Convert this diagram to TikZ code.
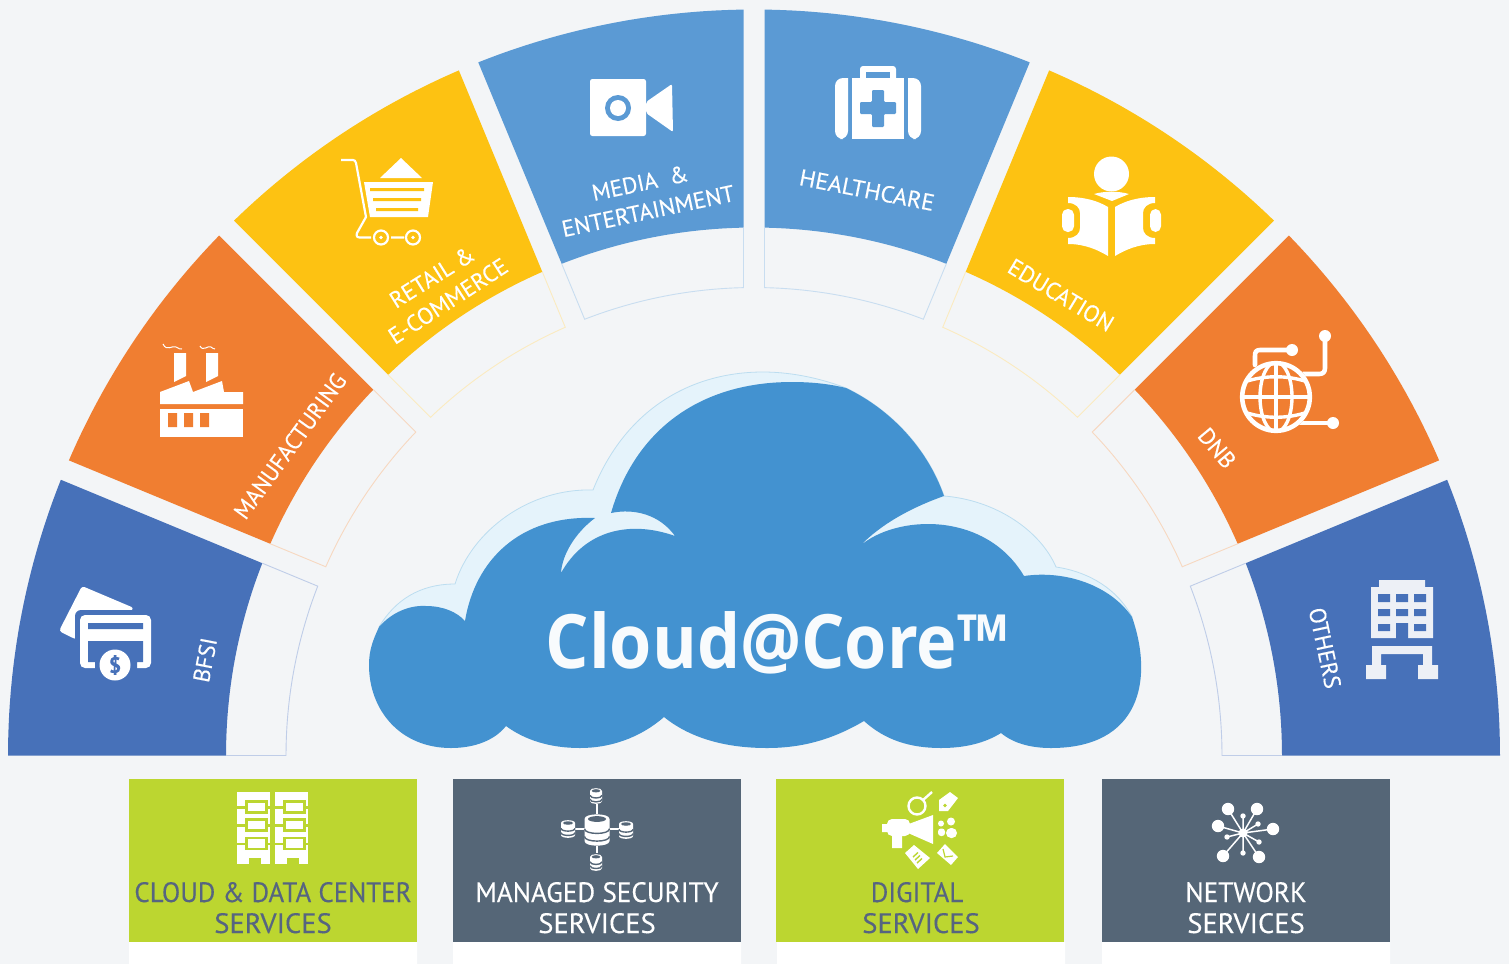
\documentclass[tikz,border=0pt]{standalone}
\usepackage{fontspec}
\setmainfont{PT Sans}[FakeBold=0.25]
\newfontfamily\brandfont{Open Sans}
\definecolor{pagebg}{HTML}{F3F5F7}
\definecolor{cblue}{HTML}{4771B9}
\definecolor{corange}{HTML}{F07E31}
\definecolor{cyellow}{HTML}{FDC212}
\definecolor{cmedia}{HTML}{5B9AD4}
\definecolor{lblue}{HTML}{BFCDE8}
\definecolor{lorange}{HTML}{F7D8C0}
\definecolor{lyellow}{HTML}{FBEBC0}
\definecolor{lmedia}{HTML}{C8DDF0}
\definecolor{cloudd}{HTML}{4392D0}
\definecolor{cloudl}{HTML}{E5F3FB}
\definecolor{cloude}{HTML}{BCDDF0}
\definecolor{cgreen}{HTML}{BCD630}
\definecolor{cslate}{HTML}{556677}
\definecolor{ctext}{HTML}{566580}
\definecolor{cbuild}{HTML}{EDF0F6}
\definecolor{brandc}{HTML}{F8FBFD}
\tikzset{
  seglabel/.style={text=white,inner sep=0pt,font=\fontsize{11.6}{13}\selectfont},
  boxlabel/.style={inner sep=0pt,font=\fontsize{14}{16}\selectfont,anchor=base},
}
\newcommand{\ringseg}[6]{%
  \pgfmathsetmacro\aOa{#3+asin(#4/746)}%
  \pgfmathsetmacro\aOb{#5-asin(#6/746)}%
  \pgfmathsetmacro\aIa{#3+asin(#4/528)}%
  \pgfmathsetmacro\aIb{#5-asin(#6/528)}%
  \pgfmathsetmacro\aTa{#3+asin(#4/468)}%
  \pgfmathsetmacro\aTb{#5-asin(#6/468)}%
  \fill[#1] plot[domain=\aOa:\aOb,samples=40,variable=\t] ({754-746*cos(\t)},{755.5-746*sin(\t)})
    -- plot[domain=\aIb:\aIa,samples=40,variable=\t] ({754-528*cos(\t)},{755.5-528*sin(\t)}) -- cycle;
  \draw[#2,line width=.45pt] ({754-528*cos(\aIa)},{755.5-528*sin(\aIa)})
    -- plot[domain=\aTa:\aTb,samples=40,variable=\t] ({754-468*cos(\t)},{755.5-468*sin(\t)})
    -- ({754-528*cos(\aIb)},{755.5-528*sin(\aIb)});
}
\newcommand{\dbcyl}[5]{% cx, top, rx, bottom, ry
  \pgfmathsetmacro\cxl{#1-#3}\pgfmathsetmacro\cxr{#1+#3}%
  \pgfmathsetmacro\cyt{#2+#5}\pgfmathsetmacro\cyb{#4-#5}%
  \pgfmathsetmacro\cya{#2+(#4-#2)*.46}\pgfmathsetmacro\cyc{#2+(#4-#2)*.70}%
  \pgfmathsetmacro\cdd{#5*1.25}%
  \fill[white] (\cxl,\cyt) -- (\cxl,\cyb) .. controls (\cxl,{\cyb+\cdd}) and (\cxr,{\cyb+\cdd}) .. (\cxr,\cyb)
     -- (\cxr,\cyt) .. controls (\cxr,{\cyt-\cdd}) and (\cxl,{\cyt-\cdd}) .. (\cxl,\cyt) -- cycle;
  \fill[cslate] (#1,\cyt) ellipse [x radius={#3*.72},y radius={#5*.58}];
  \draw[cslate,line width=.7pt] (\cxl,\cya) .. controls (\cxl,{\cya+\cdd}) and (\cxr,{\cya+\cdd}) .. (\cxr,\cya);
  \draw[cslate,line width=.7pt] (\cxl,\cyc) .. controls (\cxl,{\cyc+\cdd}) and (\cxr,{\cyc+\cdd}) .. (\cxr,\cyc);
}
\newcommand{\dccol}[1]{% data-centre column starting at x=#1
  \fill[white] (#1,792) rectangle ({#1+33},864);
  \foreach \i in {0,1,2}{
    \pgfmathsetmacro\yy{18.3*\i}
    \fill[cgreen] (#1,{806+\yy}) rectangle ({#1+33},{808.5+\yy});
    \fill[cgreen] ({#1+8},{800+\yy}) rectangle ({#1+30.5},{813.5+\yy});
    \fill[white] ({#1+11},{802.5+\yy}) rectangle ({#1+28},{811+\yy});
  }
  \fill[cgreen] ({#1+12},858) rectangle ({#1+24},864);
}
\begin{document}
\begin{tikzpicture}[x=.5pt,y=-.5pt]
\useasboundingbox (0,0) rectangle (1509,964);
\fill[pagebg] (0,0) rectangle (1509,964);
% ring
\ringseg{cblue}{lblue}{0}{0}{22.5}{10.5}
\ringseg{corange}{lorange}{22.5}{10.5}{45}{10.5}
\ringseg{cyellow}{lyellow}{45}{10.5}{67.5}{10.5}
\ringseg{cmedia}{lmedia}{67.5}{10.5}{90}{10.5}
\ringseg{cmedia}{lmedia}{90}{10.5}{112.5}{10.5}
\ringseg{cyellow}{lyellow}{112.5}{10.5}{135}{10.5}
\ringseg{corange}{lorange}{135}{10.5}{157.5}{10.5}
\ringseg{cblue}{lblue}{157.5}{10.5}{180}{0}
\draw[lblue,line width=.45pt] (226,755.5) -- (286,755.5) (1222,755.5) -- (1282,755.5);
% cloud
\fill[cloudl,draw=cloude,line width=.4pt]
  (379,627) .. controls (395,600) and (420,584) .. (455,584)
  .. controls (472,530) and (530,488) .. (593,490)
  .. controls (625,410) and (690,372) .. (763,372)
  .. controls (795,372) and (825,380) .. (846,388)
  .. controls (892,410) and (928,450) .. (944,496)
  .. controls (995,500) and (1040,530) .. (1056,567)
  .. controls (1090,572) and (1118,590) .. (1132,617)
  -- cycle;
\fill[cloudd]
  (379,627) .. controls (392,612) and (410,605) .. (426,606)
  .. controls (443,606) and (457,612) .. (465,621)
  .. controls (475,560) and (520,515) .. (595,518)
  .. controls (575,533) and (562,555) .. (561,573)
  .. controls (585,530) and (630,520) .. (675,536)
  .. controls (660,515) and (635,508) .. (611,513)
  .. controls (635,430) and (700,382) .. (792,382)
  .. controls (812,382) and (830,384) .. (846,388)
  .. controls (892,410) and (928,450) .. (944,496)
  .. controls (910,508) and (880,525) .. (860,546)
  .. controls (895,515) and (985,510) .. (1024,576)
  .. controls (1065,570) and (1110,585) .. (1132,617)
  .. controls (1154,680) and (1140,748) .. (1051,748)
  .. controls (1030,748) and (1013,743) .. (1001,733)
  .. controls (985,743) and (965,748) .. (941,748)
  .. controls (910,748) and (885,740) .. (864,721)
  .. controls (835,738) and (805,748) .. (767,748)
  .. controls (725,748) and (690,738) .. (664,717)
  .. controls (640,738) and (610,748) .. (580,748)
  .. controls (550,748) and (525,740) .. (506,726)
  .. controls (495,740) and (475,748) .. (451,748)
  .. controls (400,748) and (369,710) .. (369,665)
  .. controls (369,650) and (373,640) .. (379,627)
  -- cycle;
\node[anchor=base,inner sep=0pt,text=brandc,font=\brandfont\bfseries\fontsize{37.5}{40}\selectfont,xscale=.91] (brand) at (777,668) {Cloud@Core™};
% segment labels
\node[seglabel,rotate=79] (lbfsi) at (205,660) {BFSI};
\node[seglabel,rotate=54,xscale=.97] (lmfg) at (290,446) {MANUFACTURING};
\node[seglabel,rotate=32] (lret) at (432,277) {RETAIL \&};
\node[seglabel,rotate=33] (lecom) at (448,301) {E-COMMERCE};
\node[seglabel,rotate=12] (lmed) at (640,183) {MEDIA\ \ \&};
\node[seglabel,rotate=12,xscale=1.02] (lent) at (648,211) {ENTERTAINMENT};
\node[seglabel,rotate=-11,xscale=1.04] (lhea) at (867,190) {HEALTHCARE};
\node[seglabel,rotate=-31] (ledu) at (1061,295) {EDUCATION};
\node[seglabel,rotate=-50] (ldnb) at (1217,448) {DNB};
\node[seglabel,rotate=-78] (loth) at (1325,648) {OTHERS};
% card icon
\fill[white,rounded corners=1.5pt] (82,586) -- (134,608) -- (100,642) -- (75,639) -- (59,631) -- cycle;
\fill[cblue,rounded corners=3pt] (75,610) rectangle (157,674);
\fill[white,rounded corners=2.5pt] (80,615) rectangle (151,668);
\fill[cblue] (88,623) rectangle (143,629) (88,641) rectangle (143,662) (95,660) rectangle (137,669);
\fill[white] (115,665) circle [radius=15.5];
\node[inner sep=0pt,text=cblue,font=\bfseries\fontsize{11}{12}\selectfont] (dollar) at (115,665) {\$};
% factory icon
\fill[white] (174,353) -- (186,353) -- (186,376) -- (174,382) -- cycle;
\fill[white] (206,353) -- (218,353) -- (218,376) -- (206,382) -- cycle;
\fill[white] (160,392) -- (189,381) -- (193,392) -- (222,381) -- (224,392) -- (243,392) -- (243,404) -- (160,404) -- cycle;
\fill[white] (160,409) rectangle (243,437);
\fill[corange] (168,413) rectangle (177,427) (184,413) rectangle (193,427) (200,413) rectangle (209,427);
\draw[white,line width=.5pt] (163,344) .. controls (167,352) and (172,345) .. (176,347) .. controls (179,348) and (180,350) .. (182,349);
\draw[white,line width=.5pt] (200,346) .. controls (203,352) and (208,345) .. (211,347) .. controls (213,348) and (213,349) .. (215,349);
% cart icon
\draw[white,line width=1.1pt,line join=round] (341,160) -- (353,160) .. controls (355,160) and (355,161) .. (356,163) -- (366,217) -- (357,233) .. controls (356,236) and (357,237.5) .. (360,237.5) -- (371,237.5);
\fill[white] (364,182) -- (433,182) -- (428,217) -- (370,217) -- cycle;
\fill[cyellow] (370,188) rectangle (424,191) (373,198) rectangle (421,201) (376,208) rectangle (418,211);
\fill[white] (380,178) -- (401,158) -- (422,178) -- cycle;
\draw[white,line width=1.1pt] (381,237.5) circle [radius=7] (413,237.5) circle [radius=7] (391,237.5) -- (404,237.5);
\fill[white] (381,237.5) circle [radius=1.8] (413,237.5) circle [radius=1.8];
% video icon
\fill[white,rounded corners=1.2pt] (590,79) rectangle (646,136);
\fill[white,rounded corners=1pt] (646,102) -- (672,84) -- (673,132) -- (646,113) -- cycle;
\fill[cmedia] (618,108) circle [radius=13];
\fill[white] (618,108) circle [radius=8];
% health kit icon
\fill[white,rounded corners=1.5pt] (860,66) rectangle (896,82);
\fill[cmedia] (866,72) rectangle (890,78);
\fill[white] (852,78) rectangle (904,139);
\fill[white,rounded corners=4pt] (848,78) -- (835,78) -- (835,139) -- (848,139) [sharp corners] -- cycle;
\fill[white,rounded corners=4pt] (908,78) -- (921,78) -- (921,139) -- (908,139) [sharp corners] -- cycle;
\fill[cmedia,rounded corners=.6pt] (872,90) -- (884,90) -- (884,102) -- (896,102) -- (896,114) -- (884,114) -- (884,127) -- (872,127) -- (872,114) -- (860,114) -- (860,102) -- (872,102) -- cycle;
% book icon
\fill[white] (1111.5,174) circle [radius=17.5];
\fill[white] (1094,194) .. controls (1104,191) and (1119,191) .. (1129,194) -- (1112,201) -- cycle;
\fill[white] (1068,197) .. controls (1085,197) and (1098,201) .. (1108,207) -- (1108,256) .. controls (1098,250) and (1085,244) .. (1068,244) -- (1068,238) .. controls (1076,238) and (1080,233) .. (1080,228) -- (1080,213) .. controls (1080,208) and (1076,203) .. (1068,203) -- cycle;
\fill[white] (1155,197) .. controls (1138,197) and (1125,201) .. (1115,207) -- (1115,256) .. controls (1125,250) and (1138,244) .. (1155,244) -- (1155,238) .. controls (1147,238) and (1143,233) .. (1143,228) -- (1143,213) .. controls (1143,208) and (1147,203) .. (1155,203) -- cycle;
\fill[white,rounded corners=2.8pt] (1062,209) rectangle (1074,232);
\fill[white,rounded corners=2.8pt] (1150,209) rectangle (1161,232);
% globe icon
\draw[white,line width=2.3pt,line cap=round,line join=round] (1255,365) -- (1255,356) .. controls (1255,352) and (1256,350) .. (1260,350) -- (1292,350);
\draw[white,line width=2.3pt,line cap=round,line join=round] (1303,374) -- (1319,374) .. controls (1323,374) and (1325,372) .. (1325,368) -- (1325,336);
\draw[white,line width=2.3pt,line cap=round] (1300,423) -- (1333,423);
\fill[white] (1292,350) circle [radius=6] (1325,336) circle [radius=6] (1333,423) circle [radius=6];
\fill[corange] (1276,397) circle [radius=36];
\draw[white,line width=2.3pt] (1276,397) circle [radius=33.8];
\begin{scope}
\clip (1276,397) circle [radius=34];
\draw[white,line width=1.7pt] (1276,362) -- (1276,432) (1241,397) -- (1311,397);
\draw[white,line width=1.7pt] (1276,397) ellipse [x radius=16,y radius=35];
\draw[white,line width=1.7pt] (1244,382) .. controls (1265,375) and (1287,375) .. (1308,382);
\draw[white,line width=1.7pt] (1244,412) .. controls (1265,419) and (1287,419) .. (1308,412);
\end{scope}
% building icon
\fill[cbuild] (1379,580) rectangle (1425,587) (1371,587) rectangle (1433,638);
\fill[cblue] (1378,594) rectangle (1390,602) (1396,594) rectangle (1408,602) (1414,594) rectangle (1426,602)
  (1378,609) rectangle (1390,616) (1396,609) rectangle (1408,616) (1414,609) rectangle (1426,616)
  (1378,624) rectangle (1390,631) (1396,623) rectangle (1408,639) (1414,624) rectangle (1426,631);
\fill[cbuild] (1372,646) rectangle (1432,654) (1372,654) rectangle (1381,666) (1423,654) rectangle (1432,666)
  (1366,665) rectangle (1386,679) (1418,665) rectangle (1438,679);
% bottom boxes
\fill[white] (129,942) rectangle (417,964) (453,942) rectangle (741,964) (777,942) rectangle (1065,964) (1102,942) rectangle (1390,964);
\fill[cgreen] (129,779) rectangle (417,942);
\fill[cslate] (453,779) rectangle (741,942);
\fill[cgreen] (776,779) rectangle (1064,942);
\fill[cslate] (1102,779) rectangle (1390,942);
\node[boxlabel,text=ctext,xscale=.96] (b1a) at (273,902) {CLOUD \& DATA CENTER};
\node[boxlabel,text=ctext,xscale=1.02] (b1b) at (273,933) {SERVICES};
\node[boxlabel,text=white,xscale=.97] (b2a) at (597,902) {MANAGED SECURITY};
\node[boxlabel,text=white,xscale=1.02] (b2b) at (597,933) {SERVICES};
\node[boxlabel,text=ctext,xscale=.96] (b3a) at (917,902) {DIGITAL};
\node[boxlabel,text=ctext,xscale=1.02] (b3b) at (921,933) {SERVICES};
\node[boxlabel,text=white,xscale=.97] (b4a) at (1246,902) {NETWORK};
\node[boxlabel,text=white,xscale=1.02] (b4b) at (1246,933) {SERVICES};
% data-centre icon
\dccol{237}
\dccol{275}
% database icon
\draw[white,line width=1pt] (597,804) -- (597,814) (597,846) -- (597,853) (575,829) -- (585,829) (610,829) -- (619,829);
\dbcyl{597}{814}{12.5}{846}{5}
\dbcyl{596}{788}{6}{804}{2.8}
\dbcyl{596}{854}{6}{871}{2.8}
\dbcyl{568}{820}{7}{838}{3}
\dbcyl{626}{821}{7}{839}{3}
% digital icon
\draw[white,line width=1.2pt] (917,806) circle [radius=8.5] (923,800) -- (932,792);
\fill[white] (939,800) -- (950,792) -- (958,798) -- (948,811) -- (939,811) -- cycle;
\fill[cgreen] (945,805.5) circle [radius=1.8];
\fill[white] (906,825) -- (933,815) -- (933,844) -- (908,833) -- cycle;
\fill[white,rounded corners=2.5pt] (887,819) rectangle (910,836);
\fill[white] (882,824) rectangle (889,832) (892,835) rectangle (902,848);
\fill[white] (951,821.5) circle [radius=4] (941,823.5) circle [radius=3];
\fill[white,rounded corners=2.5pt] (946,828) -- (957,828) -- (957,838) -- (946,838) -- cycle;
\fill[white,rounded corners=1.5pt] (938,828.5) -- (945,828.5) -- (945,836) -- (938,836) -- cycle;
\fill[white] (905,853) -- (914,845) -- (930,858) -- (918,869) -- cycle;
\draw[cgreen,line width=.7pt] (913,857) -- (918,852.5) (915,860) -- (920,855.5) (917,863) -- (922,858.5);
\fill[white] (937,853) -- (945,844) -- (958,857) -- (951,865) -- cycle;
\draw[cgreen,line width=.6pt] (943,849) -- (945,857) -- (953,856);
% network icon
\draw[white,line width=.75pt] (1243,833) -- (1228,809) (1243,833) -- (1257,809) (1243,833) -- (1218,826) (1243,833) -- (1273,829) (1243,833) -- (1223,856) (1243,833) -- (1259,857)
  (1243,833) -- (1243,816) (1243,833) -- (1258,824) (1243,833) -- (1227,837) (1243,833) -- (1259,842) (1243,833) -- (1243,853);
\fill[white] (1243,833) circle [radius=4.5];
\fill[white] (1228,809) circle [radius=6.2] (1257,809) circle [radius=6.2] (1218,826) circle [radius=6.2] (1273,829) circle [radius=6.2] (1223,856) circle [radius=6.2] (1259,857) circle [radius=6.2];
\fill[white] (1243,816) circle [radius=2.7] (1258,824) circle [radius=2.7] (1227,837) circle [radius=2.7] (1259,842) circle [radius=2.7] (1243,853) circle [radius=2.7];
\end{tikzpicture}
\end{document}
